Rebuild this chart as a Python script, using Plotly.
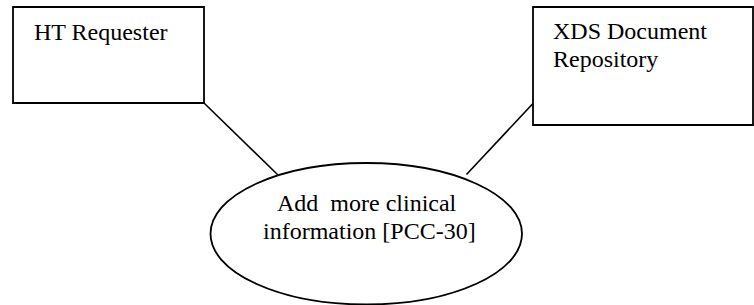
import plotly.graph_objects as go

# Diagram content (one entry per text line)
requester_lines = ["HT Requester"]
repository_lines = ["XDS Document", "Repository"]
transaction_lines = ["Add\u00a0 more clinical", "information [PCC-30]"]

W, H = 754, 305
fig = go.Figure()

# geometry (pixels, y down)
box1 = dict(x0=13, y0=7, x1=204, y1=103)
box2 = dict(x0=533, y0=7, x1=753, y1=125)
ell = dict(x0=210.5, y0=163, x1=522, y1=304.5)
line1 = dict(x0=204, y0=103, x1=278, y1=175)
line2 = dict(x0=532.5, y0=104, x1=466.5, y1=174.5)

lw = 1.8
shapes = []
for b in (box1, box2):
    shapes.append(dict(type="rect", xref="x", yref="y", **b,
                       line=dict(color="black", width=lw), fillcolor="white"))
for l in (line1, line2):
    shapes.append(dict(type="line", xref="x", yref="y", **l,
                       line=dict(color="black", width=1.6)))
shapes.append(dict(type="circle", xref="x", yref="y", **ell,
                   line=dict(color="black", width=lw), fillcolor="rgba(0,0,0,0)"))

font = dict(family="Liberation Serif", size=24, color="black")
LINE = 28
annotations = []


def add_lines(lines, x, y_top, xanchor, xs=None):
    for i, t in enumerate(lines):
        annotations.append(dict(
            x=(xs[i] if xs else x), y=y_top + i * LINE, xref="x", yref="y",
            text=t, showarrow=False, xanchor=xanchor, yanchor="top",
            align="left", font=font, borderpad=0))


add_lines(requester_lines, 33, 18, "left")
add_lines(repository_lines, 552, 17, "left")
add_lines(transaction_lines, None, 189, "center", xs=[366.5, 369.5])

fig.update_layout(
    width=W, height=H, margin=dict(l=0, r=0, t=0, b=0),
    paper_bgcolor="white", plot_bgcolor="white",
    xaxis=dict(range=[0, W], visible=False, fixedrange=True),
    yaxis=dict(range=[H, 0], visible=False, fixedrange=True),
    shapes=shapes, annotations=annotations, showlegend=False,
)
fig.write_html("out.html", config=dict(displayModeBar=False),
               post_script="document.body.style.margin='0';document.body.style.overflow='hidden';")
